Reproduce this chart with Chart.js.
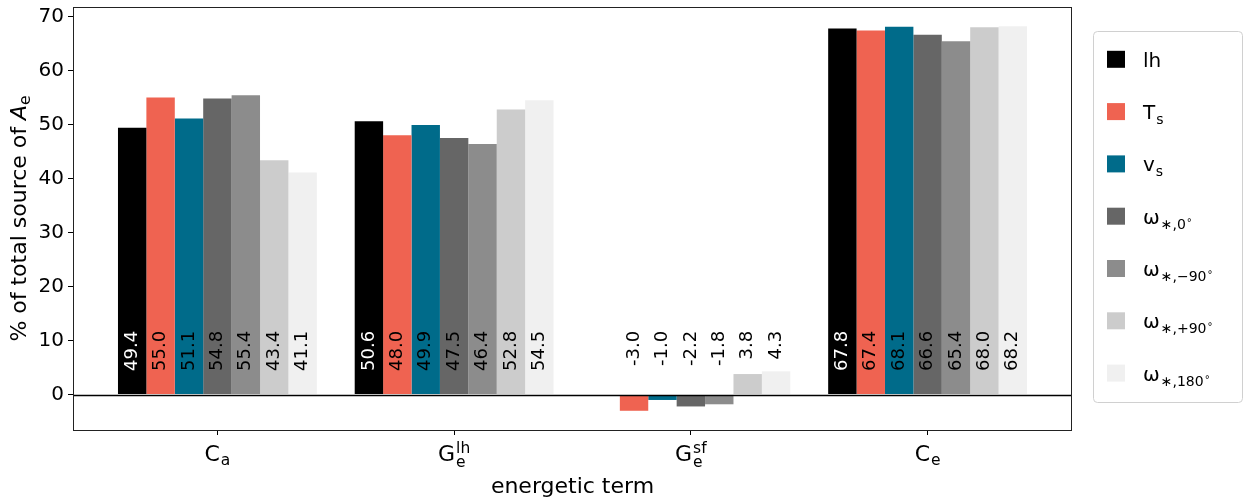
<!DOCTYPE html>
<html>
<head>
<meta charset="utf-8">
<script src="https://cdn.jsdelivr.net/npm/chart.js@4.4.0/dist/chart.umd.min.js"></script>
<style>
  html, body { margin: 0; padding: 0; background: #fff; }
  #wrap { width: 1245px; height: 500px; }
</style>
</head>
<body>
<div id="wrap"><canvas id="grafico" width="1245" height="500"></canvas></div>
<script>
// ---- dados ----
const termBase = ['C', 'G', 'G', 'C'];
const termSub  = ['a', 'e', 'e', 'e'];
const termSup  = ['', 'lh', 'sf', ''];

const lh   = [49.4, 50.6, null, 67.8];
const Ts   = [55.0, 48.0, -3.0, 67.4];
const vs   = [51.1, 49.9, -1.0, 68.1];
const w0   = [54.8, 47.5, -2.2, 66.6];
const wm90 = [55.4, 46.4, -1.8, 65.4];
const wp90 = [43.4, 52.8,  3.8, 68.0];
const w180 = [41.1, 54.5,  4.3, 68.2];
const seriesValues = [lh, Ts, vs, w0, wm90, wp90, w180];

const legendMain = ['lh', 'T', 'v', 'ω', 'ω', 'ω', 'ω'];
const legendSub  = ['', 's', 's', '∗,0', '∗,−90', '∗,+90', '∗,180'];
const legendDeg  = [false, false, false, true, true, true, true];

const yTicks = [0, 10, 20, 30, 40, 50, 60, 70];

// ---- estilo ----
const COLORS = ['#000000', '#ef6351', '#006b8a', '#666666', '#8c8c8c', '#cccccc', '#f0f0f0'];
const FONT = '"DejaVu Sans", Verdana, sans-serif';
const LABEL_AT = 11.8; // topo dos rótulos verticais (unidades do eixo y)

/* =========================
   Plugins de desenho
   ========================= */
const moldura = {
  id: 'moldura',
  afterDatasetsDraw(chart) {
    const { ctx, chartArea: a, scales: { y } } = chart;
    ctx.save();
    // linha do zero
    const y0 = Math.round(y.getPixelForValue(0)) + 0.5;
    ctx.strokeStyle = '#000';
    ctx.lineWidth = 1.5;
    ctx.beginPath();
    ctx.moveTo(a.left, y0);
    ctx.lineTo(a.right, y0);
    ctx.stroke();
    // borda do eixo
    ctx.lineWidth = 1;
    ctx.strokeStyle = '#222';
    ctx.strokeRect(a.left + 0.5, a.top + 0.5, a.right - a.left - 1, a.bottom - a.top);
    ctx.restore();
  }
};

const rotulosBarras = {
  id: 'rotulosBarras',
  afterDatasetsDraw(chart) {
    const ctx = chart.ctx, y = chart.scales.y;
    ctx.save();
    ctx.font = '18px ' + FONT;
    ctx.textAlign = 'right';
    ctx.textBaseline = 'middle';
    seriesValues.forEach((vals, k) => {
      chart.getDatasetMeta(k).data.forEach((bar, i) => {
        const v = vals[i];
        if (v === null) return;
        ctx.save();
        ctx.translate(bar.x, y.getPixelForValue(LABEL_AT));
        ctx.rotate(-Math.PI / 2);
        ctx.fillStyle = k === 0 ? '#ffffff' : '#000000';
        ctx.fillText(v.toFixed(1), 0, 0);
        ctx.restore();
      });
    });
    ctx.restore();
  }
};

const textosEixos = {
  id: 'textosEixos',
  afterDraw(chart) {
    const { ctx, chartArea: a, scales: { x } } = chart;
    ctx.save();
    ctx.fillStyle = '#000';
    ctx.textBaseline = 'alphabetic';
    ctx.textAlign = 'left';

    // rótulos das categorias (com sub/sobrescrito)
    termBase.forEach((b, i) => {
      ctx.font = '22px ' + FONT;
      const mw = ctx.measureText(b).width;
      ctx.font = '15.5px ' + FONT;
      const sw = Math.max(ctx.measureText(termSub[i]).width, ctx.measureText(termSup[i]).width);
      const cx = x.getPixelForValue(i);
      const x0 = cx - (mw + sw + 1) / 2;
      const base = 461;
      ctx.font = '22px ' + FONT;
      ctx.fillText(b, x0, base);
      ctx.font = '15.5px ' + FONT;
      ctx.fillText(termSub[i], x0 + mw + 1, base + (termSup[i] ? 5.5 : 3.5));
      if (termSup[i]) ctx.fillText(termSup[i], x0 + mw + 1, base - 8.5);
    });

    // título do eixo y
    const p1 = '% of total source of ';
    ctx.save();
    ctx.translate(26, (a.top + a.bottom) / 2);
    ctx.rotate(-Math.PI / 2);
    ctx.font = '22px ' + FONT;
    const w1 = ctx.measureText(p1).width;
    ctx.font = 'italic 22px ' + FONT;
    const w2 = ctx.measureText('A').width;
    ctx.font = '15.5px ' + FONT;
    const w3 = ctx.measureText('e').width;
    let u = -(w1 + w2 + w3) / 2;
    ctx.font = '22px ' + FONT;
    ctx.fillText(p1, u, 0);
    u += w1;
    ctx.font = 'italic 22px ' + FONT;
    ctx.fillText('A', u, 0);
    u += w2;
    ctx.font = '15.5px ' + FONT;
    ctx.fillText('e', u, 4);
    ctx.restore();

    ctx.restore();
  }
};

const legenda = {
  id: 'legenda',
  afterDraw(chart) {
    const ctx = chart.ctx;
    ctx.save();
    // caixa
    ctx.beginPath();
    ctx.roundRect(1093.5, 31.5, 149, 371, 4);
    ctx.fillStyle = 'rgba(255,255,255,0.8)';
    ctx.fill();
    ctx.strokeStyle = '#d0d0d0';
    ctx.lineWidth = 1;
    ctx.stroke();

    ctx.textAlign = 'left';
    ctx.textBaseline = 'alphabetic';
    legendMain.forEach((m, k) => {
      const cy = 59.3 + k * 52.3;
      ctx.fillStyle = COLORS[k];
      ctx.fillRect(1107, cy - 8.5, 18, 17);
      ctx.fillStyle = '#000';
      const base = cy + 7.5;
      ctx.font = '20px ' + FONT;
      ctx.fillText(m, 1143, base);
      let xx = 1143 + ctx.measureText(m).width + 1;
      if (legendSub[k]) {
        ctx.font = '14px ' + FONT;
        ctx.fillText(legendSub[k], xx, base + 5);
        xx += ctx.measureText(legendSub[k]).width + 1;
      }
      if (legendDeg[k]) {
        ctx.font = '10px ' + FONT;
        ctx.fillText('°', xx, base + 2);
      }
    });
    ctx.restore();
  }
};

/* =========================
   Gráfico
   ========================= */
const ctx = document.getElementById('grafico').getContext('2d');

new Chart(ctx, {
  type: 'bar',
  data: {
    datasets: seriesValues.map((vals, k) => ({
      label: legendMain[k] + legendSub[k],
      data: vals.map((v, i) => ({ x: i, y: v })),
      backgroundColor: COLORS[k],
      borderWidth: 0,
      categoryPercentage: 0.84,
      barPercentage: 1.0
    }))
  },
  options: {
    responsive: false,
    devicePixelRatio: 1,
    animation: false,
    layout: { padding: { left: 0, top: 7, right: 173, bottom: 0 } },
    scales: {
      x: {
        type: 'linear',
        min: -0.61,
        max: 3.61,
        offset: false,
        afterBuildTicks: s => { s.ticks = termBase.map((_, i) => ({ value: i })); },
        afterFit: s => { s.height = 70; s.paddingLeft = 0; s.paddingRight = 0; },
        ticks: { display: false },
        grid: { display: true, offset: false, drawOnChartArea: false, drawTicks: true, tickLength: 5, color: '#000', tickColor: '#000' },
        border: { display: false },
        title: {
          display: true,
          text: 'energetic term',
          color: '#000',
          font: { family: FONT, size: 22 },
          padding: { top: 0, bottom: 0 }
        }
      },
      y: {
        min: -6.56,
        max: 71.76,
        afterBuildTicks: s => { s.ticks = yTicks.map(v => ({ value: v })); },
        afterFit: s => { s.width = 73; s.paddingTop = 0; s.paddingBottom = 0; },
        ticks: { color: '#000', font: { family: FONT, size: 20 }, padding: 4 },
        grid: { display: true, drawOnChartArea: false, drawTicks: true, tickLength: 5, color: '#000', tickColor: '#000' },
        border: { display: false }
      }
    },
    plugins: {
      legend: { display: false },
      tooltip: { enabled: false }
    }
  },
  plugins: [moldura, rotulosBarras, textosEixos, legenda]
});
</script>
</body>
</html>
